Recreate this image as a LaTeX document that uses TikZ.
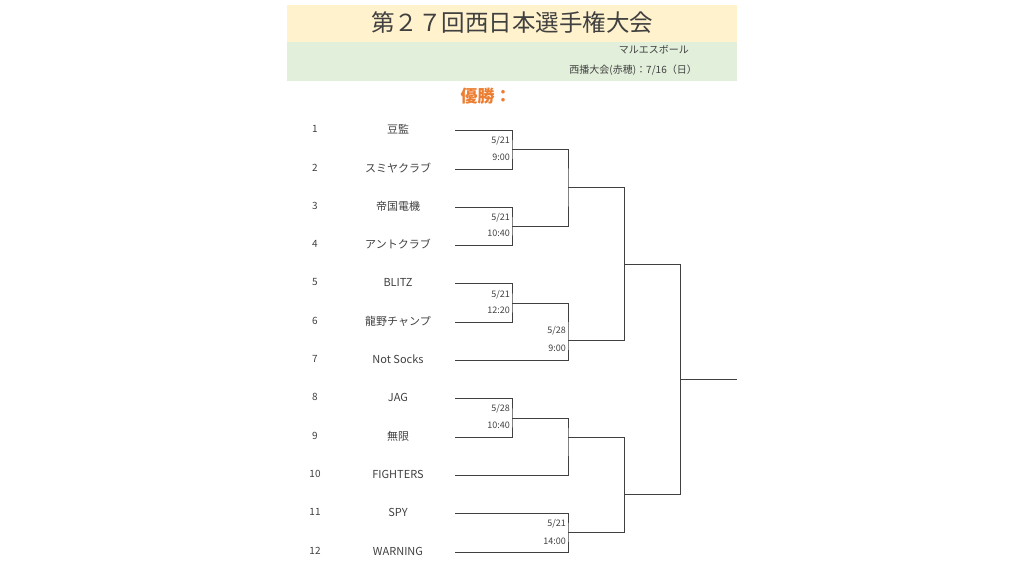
\documentclass[tikz,border=0pt]{standalone}
\usepackage{fontspec}
\setmainfont{Noto Sans CJK JP}
\definecolor{hdryellow}{HTML}{FFF2CC}
\definecolor{hdrgreen}{HTML}{E2EFDA}
\definecolor{txtgray}{HTML}{404040}
\definecolor{winorange}{HTML}{ED7D31}
\definecolor{linegray}{HTML}{404040}
\tikzset{
  numlabel/.style={font=\fontsize{10}{12}\selectfont, text=txtgray, inner sep=0pt},
  teamlabel/.style={font=\fontsize{11}{13}\selectfont, text=txtgray, inner sep=0pt},
  datelabel/.style={font=\fontsize{9}{10}\selectfont, text=txtgray, inner sep=0pt, anchor=east},
  bracket/.style={draw=linegray, line width=1pt},
}
\begin{document}
\begin{tikzpicture}[x=1pt,y=-1pt]
\useasboundingbox (0,0) rectangle (1024,576);
% header bands
\fill[hdryellow] (287,5) rectangle (737,41.5);
\fill[hdrgreen] (287,41.5) rectangle (737,80.5);
\node[font=\fontsize{23.5}{26}\selectfont, text=txtgray, inner sep=0pt] (title) at (512,22.5) {第２７回西日本選手権大会};
\node[font=\fontsize{10}{11}\selectfont, text=txtgray, inner sep=0pt, anchor=east] (org) at (689,50) {マルエスボール};
\node[font=\fontsize{10}{11}\selectfont, text=txtgray, inner sep=0pt, anchor=east] (venue) at (697,70) {西播大会(赤穂)：7/16（日）};
\node[font=\bfseries\fontsize{17}{19}\selectfont, text=winorange, inner sep=0pt] (champ) at (486,96) {優勝：};
% teams
\foreach \i/\y/\name in {1/129/豆監,2/168/スミヤクラブ,3/206/帝国電機,4/244/アントクラブ,5/282/BLITZ,6/321/龍野チャンプ,7/359/Not Socks,8/397/JAG,9/436/無限,10/474/FIGHTERS,11/512/SPY,12/551/WARNING}{
  \node[numlabel] (n\i) at (315,\y) {\i};
  \node[teamlabel] (t\i) at (398,\y) {\name};
  \coordinate (s\i) at (455,\y+1);
}
% junctions
\coordinate (J1) at (512,149);
\coordinate (J2) at (512,226);
\coordinate (J3) at (512,303);
\coordinate (J4) at (568,340);
\coordinate (J5) at (568,187);
\coordinate (J6) at (624,264);
\coordinate (J7) at (512,418);
\coordinate (J8) at (568,437);
\coordinate (J9) at (568,532);
\coordinate (J10) at (624,494);
\coordinate (J11) at (680,379);
\coordinate (win) at (737,379);
% brackets
\draw[bracket] (s1) -| (J1) |- (s2);
\draw[bracket] (s3) -| (J2) |- (s4);
\draw[bracket] (s5) -| (J3) |- (s6);
\draw[bracket] (J3) -| (J4) |- (s7);
\draw[bracket] (J1) -| (J5) |- (J2);
\draw[bracket] (J5) -| (J6) |- (J4);
\draw[bracket] (s8) -| (J7) |- (s9);
\draw[bracket] (J7) -| (J8) |- (s10);
\draw[bracket] (s11) -| (J9) |- (s12);
\draw[bracket] (J8) -| (J10) |- (J9);
\draw[bracket] (J6) -| (J11) |- (J10);
\draw[bracket] (J11) -- (win);
% dates
\node[datelabel] (d1a) at (510,141) {5/21};
\node[datelabel] (d1b) at (510,157) {9:00};
\node[datelabel] (d2a) at (510,218) {5/21};
\node[datelabel] (d2b) at (510,233) {10:40};
\node[datelabel] (d3a) at (510,295) {5/21};
\node[datelabel] (d3b) at (510,310) {12:20};
\node[datelabel] (d4a) at (566,331) {5/28};
\node[datelabel] (d4b) at (566,348) {9:00};
\node[datelabel] (d7a) at (510,409) {5/28};
\node[datelabel] (d7b) at (510,425) {10:40};
\node[datelabel] (d9a) at (566,524) {5/21};
\node[datelabel] (d9b) at (566,541) {14:00};
\end{tikzpicture}
\end{document}
